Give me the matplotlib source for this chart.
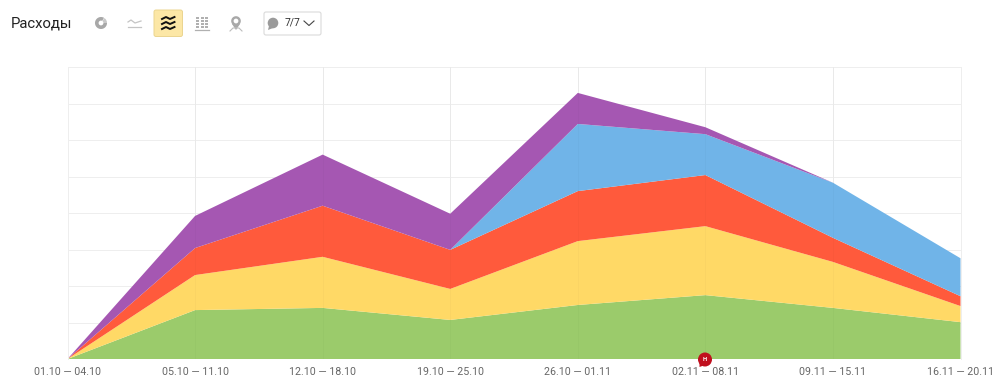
import matplotlib
matplotlib.use("Agg")
import matplotlib.pyplot as plt
from matplotlib.patches import FancyBboxPatch, Circle, Wedge, Polygon, Rectangle
import numpy as np

plt.rcParams['font.family'] = ['Roboto', 'DejaVu Sans']

periods = ["01.10 — 04.10", "05.10 — 11.10", "12.10 — 18.10", "19.10 — 25.10",
           "26.10 — 01.11", "02.11 — 08.11", "09.11 — 15.11", "16.11 — 20.11"]
green  = [0, 1.34, 1.40, 1.07, 1.48, 1.75, 1.40, 1.01]
yellow = [0, 0.96, 1.40, 0.85, 1.75, 1.89, 1.26, 0.44]
red    = [0, 0.74, 1.40, 1.07, 1.37, 1.40, 0.66, 0.27]
blue   = [0, 0.00, 0.00, 0.00, 1.84, 1.12, 1.51, 1.04]
purple = [0, 0.88, 1.40, 0.99, 0.85, 0.19, 0.00, 0.00]
colors = ["#9BCB6B", "#FFD966", "#FF5A3C", "#70B4E8", "#A557B2"]
title = "Расходы"
counter = "7/7"

W, H = 1000, 387
fig = plt.figure(figsize=(W/100, H/100), dpi=100, facecolor="white")
L, R, T, B = 67.5, 960.5, 67, 359
ax = fig.add_axes([L/W, 1-B/H, (R-L)/W, (B-T)/H])
x = np.arange(len(periods))
ax.stackplot(x, green, yellow, red, blue, purple, colors=colors, linewidth=0, zorder=2)
ax.set_xlim(0, len(periods)-1)
ax.set_ylim(0, 8)
ax.set_xticks(x)
ax.set_xticklabels(periods, fontsize=7.7, color="#666666")
ax.set_yticks(range(0, 9))
ax.tick_params(axis='y', length=0, labelleft=False)
ax.tick_params(axis='x', length=0, pad=5.5)
ax.grid(True, color="#EEEEEE", linewidth=0.7, zorder=1)
ax.set_axisbelow(True)
for v in x[1:-1]:
    ax.axvline(v, color="#000000", alpha=0.02, linewidth=0.7, zorder=3)
for s in ax.spines.values():
    s.set_color("#EEEEEE")
    s.set_linewidth(0.7)
ax.spines['bottom'].set_visible(False)

# toolbar overlay in pixel coordinates
ov = fig.add_axes([0, 0, 1, 1], facecolor="none")
ov.set_xlim(0, W)
ov.set_ylim(H, 0)
ov.axis("off")
ov.text(11, 23.5, title, fontsize=10.7, color="#222222", va="center", ha="left")

grey = "#A8A8A8"
# donut icon
ov.add_patch(Wedge((101, 23), 6, 0, 300, width=3.6, color=grey, lw=0))
ov.add_patch(Wedge((101, 23), 6, 305, 360, width=3.6, color="#C8C8C8", lw=0))
# line icon
ov.plot([128, 131, 135, 141], [22, 20, 23, 21], color="#C4C4C4", lw=0.9)
ov.plot([128, 141], [27, 27], color="#C4C4C4", lw=0.9)
# active stacked icon
ov.add_patch(FancyBboxPatch((154, 10), 28.5, 26.5, boxstyle="round,pad=0,rounding_size=2",
                            fc="#FCE7A6", ec="#EBD58F", lw=0.7))
for y0 in (19, 24, 29):
    ov.plot([162, 166, 170, 174.5], [y0, y0-2, y0, y0-2], color="#111111", lw=1.4)
# table icon
for xx in (196, 200.5, 205):
    for yy in (17, 20, 23, 26):
        ov.add_patch(Rectangle((xx, yy), 3.4, 2.4, color="#B0B0B0", lw=0))
ov.plot([195, 209], [29.5, 29.5], color="#B0B0B0", lw=0.9)
# map pin icon
ov.add_patch(Wedge((236, 21), 4.8, 0, 360, width=2.4, color=grey, lw=0))
ov.add_patch(Polygon([[232, 24], [240, 24], [236, 30]], color=grey, lw=0))
ov.plot([230, 233, 239, 242], [31, 28, 28, 31], color="#BDBDBD", lw=0.8)
# comment selector
ov.add_patch(FancyBboxPatch((264, 12), 57, 23, boxstyle="round,pad=0,rounding_size=2",
                            fc="white", ec="#DADADA", lw=0.8))
ov.add_patch(Circle((273, 23), 5.3, color="#9A9A9A", lw=0))
ov.add_patch(Polygon([[269, 26], [268, 30], [273, 28]], color="#9A9A9A", lw=0))
ov.text(285, 23, counter, fontsize=7.4, color="#333333", va="center", ha="left")
ov.plot([304, 309, 314], [21, 25.5, 21], color="#444444", lw=0.8)

# red note marker
ov.add_patch(Circle((705, 359.5), 7, color="#C0101E", lw=0, zorder=5))
ov.add_patch(Polygon([[699.5, 362], [699.5, 367], [705, 365]], color="#C0101E", lw=0, zorder=5))
ov.text(705, 359.5, "H", fontsize=4.2, color="white", ha="center", va="center", zorder=6, fontweight="bold")

fig.savefig("out.png", dpi=100, facecolor="white")
